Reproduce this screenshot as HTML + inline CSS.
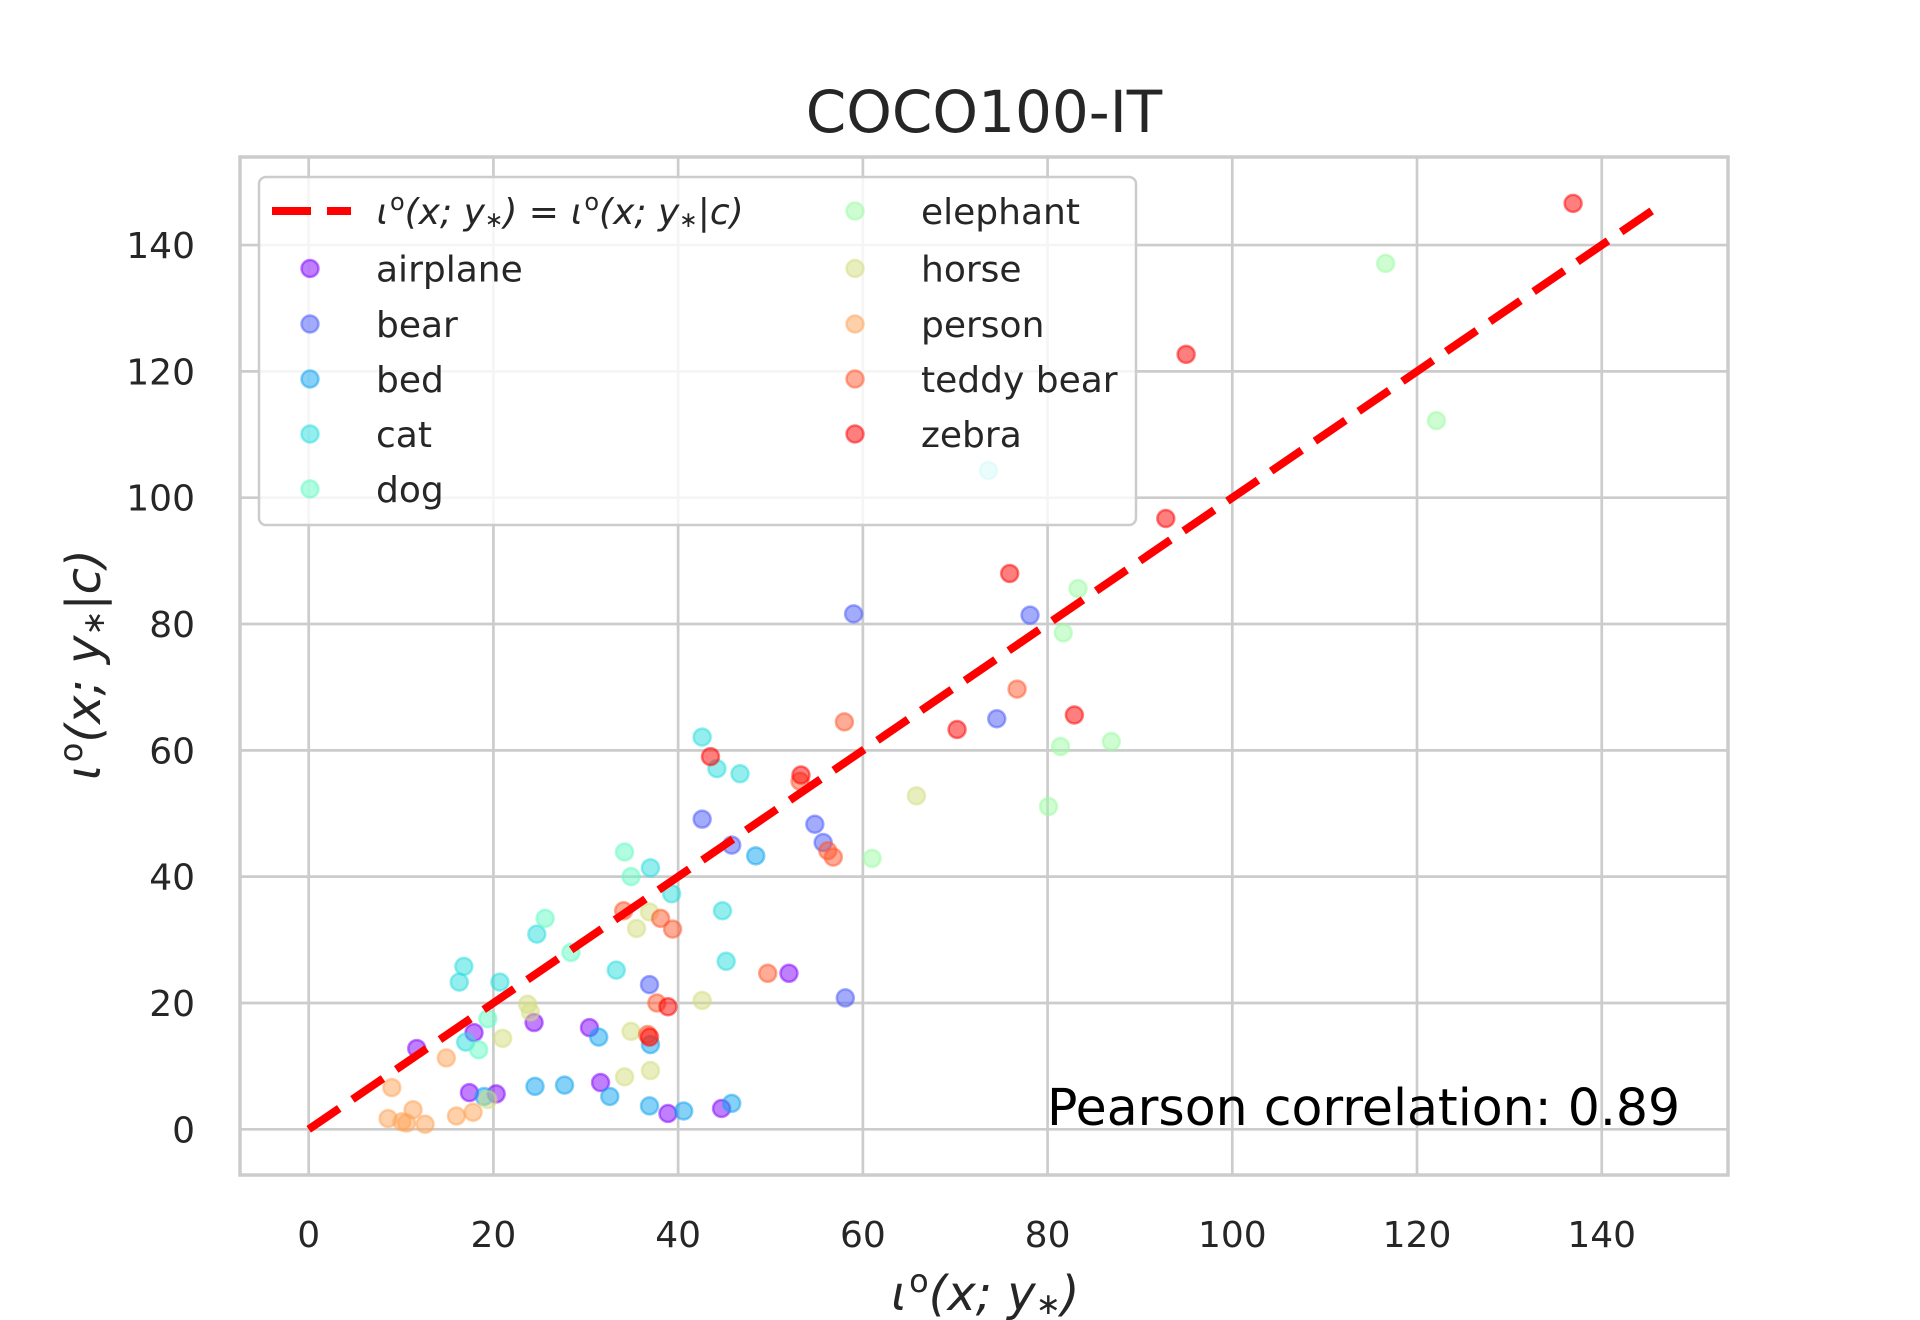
<!DOCTYPE html>
<html><head><meta charset="utf-8"><style>
html,body{margin:0;padding:0;background:#fff;}
svg{display:block;font-family:"DejaVu Sans","Liberation Sans",sans-serif;}
</style></head><body>
<svg id="chart" width="1920" height="1320" viewBox="0 0 1920 1320" xmlns="http://www.w3.org/2000/svg">
<rect x="0" y="0" width="1920" height="1320" fill="#fff"/>
<g id="grid"></g>
<g id="marks"></g>
<g id="ticks"></g>
<rect x="240" y="157" width="1488" height="1018" fill="none" stroke="#cccccc" stroke-width="3.5"/>
<text x="984" y="132" font-size="58" text-anchor="middle" fill="#262626">COCO100-IT</text>
<text x="985" y="1310" font-size="48" text-anchor="middle" fill="#262626" font-style="italic">ɩ<tspan font-style="normal" dy="-18" font-size="32">o</tspan><tspan dy="18">(x; y</tspan><tspan font-style="normal" font-size="30" dy="4">∗</tspan><tspan dy="-4">)</tspan></text>
<text transform="translate(100,665) rotate(-90)" font-size="48" text-anchor="middle" fill="#262626" font-style="italic">ɩ<tspan font-style="normal" dy="-18" font-size="32">o</tspan><tspan dy="18">(x; y</tspan><tspan font-style="normal" font-size="30" dy="4">∗</tspan><tspan dy="-4">|c)</tspan></text>
<g id="legend"></g>
<text x="1047" y="1125" font-size="50.5" fill="#000">Pearson correlation: 0.89</text>
</svg>
<script>
const categories = ["airplane","bear","bed","cat","dog","elephant","horse","person","teddy bear","zebra"];
const catColors = ["#8000ff","#4757fb","#0ea4f0","#2adddd","#63fbc3","#9cfba4","#d4dd80","#ffa457","#ff572c","#ff0000"];
const xTicks = [0,20,40,60,80,100,120,140];
const yTicks = [0,20,40,60,80,100,120,140];
const airplaneX = [11.7,17.9,24.4,30.4,17.4,20.3,31.6,38.9,44.7,52.0];
const airplaneY = [12.8,15.3,16.9,16.1,5.8,5.6,7.4,2.5,3.3,24.7];
const bearX = [59.0,78.1,74.5,42.6,54.8,55.7,45.8,36.9,58.1];
const bearY = [81.6,81.4,65.0,49.1,48.3,45.4,45.0,22.9,20.8];
const bedX = [48.4,24.5,27.7,32.6,36.9,40.6,45.8,31.4,37.0,19.0];
const bedY = [43.3,6.8,7.0,5.2,3.7,2.9,4.1,14.6,13.4,5.2];
const catX = [42.6,44.2,46.7,37.0,39.3,44.8,45.2,16.8,20.7,24.7,33.3,17.0,73.6,16.3];
const catY = [62.1,57.1,56.3,41.4,37.3,34.6,26.6,25.8,23.3,30.9,25.2,13.8,104.3,23.3];
const dogX = [34.2,25.6,28.4,19.4,18.4,34.9];
const dogY = [43.9,33.4,28.0,17.5,12.6,40.0];
const elephantX = [83.3,81.7,81.4,86.9,80.1,61.0,116.6,122.1];
const elephantY = [85.6,78.6,60.6,61.4,51.1,42.9,137.1,112.2];
const horseX = [65.8,35.5,36.9,42.6,34.9,34.2,37.0,21.0,23.7,24.0,19.4];
const horseY = [52.8,31.8,34.4,20.4,15.5,8.3,9.3,14.4,19.8,18.6,4.7];
const personX = [9.0,14.9,8.6,10.1,11.3,12.6,16.0,17.8,10.6];
const personY = [6.6,11.3,1.7,1.2,3.1,0.8,2.1,2.7,1.0];
const teddyX = [58.0,76.7,34.1,38.1,39.4,37.7,49.7,56.2,56.8,53.2,36.7];
const teddyY = [64.5,69.7,34.6,33.4,31.7,20.0,24.7,44.1,43.1,55.1,15.0];
const zebraX = [136.9,95.0,92.8,75.9,82.9,70.2,43.5,53.3,38.9,36.9];
const zebraY = [146.6,122.7,96.7,88.0,65.6,63.3,59.0,56.1,19.4,14.6];
const seriesX = [airplaneX,bearX,bedX,catX,dogX,elephantX,horseX,personX,teddyX,zebraX];
const seriesY = [airplaneY,bearY,bedY,catY,dogY,elephantY,horseY,personY,teddyY,zebraY];
const identityLine = [0,146.8];

const NS="http://www.w3.org/2000/svg";
const X0=308.7, XS=9.236, Y0=1129.3, YS=6.316;
function sx(v){return X0+v*XS;}
function sy(v){return Y0-v*YS;}
function mk(tag,attrs,parent){const e=document.createElementNS(NS,tag);for(const k in attrs)e.setAttribute(k,attrs[k]);parent.appendChild(e);return e;}

const grid=document.getElementById('grid');
const ticks=document.getElementById('ticks');
xTicks.forEach(t=>{
  const l=mk('line',{x1:sx(t),x2:sx(t),y1:157,y2:1175,stroke:'#cccccc','stroke-width':2.7},grid);
  
  
  const tx=mk('text',{x:sx(t),y:1247,'font-size':36,'text-anchor':'middle',fill:'#262626'},ticks);
  tx.textContent=t;
  
  
});
yTicks.forEach(t=>{
  const l=mk('line',{x1:240,x2:1728,y1:sy(t),y2:sy(t),stroke:'#cccccc','stroke-width':2.7},grid);
  
  
  const tx=mk('text',{x:195,y:sy(t)+13,'font-size':36,'text-anchor':'end',fill:'#262626'},ticks);
  tx.textContent=t;
  
  
});

const marks=document.getElementById('marks');
seriesX.forEach((xs,i)=>{
  const g=mk('g',{},marks);
  
  
  xs.forEach((v,j)=>{
    const c=mk('circle',{cx:sx(v),cy:sy(seriesY[i][j]),r:8.5,fill:catColors[i],'fill-opacity':0.5,stroke:catColors[i],'stroke-opacity':0.5,'stroke-width':2.5},g);
    
    
  });
});
const line=mk('line',{x1:sx(identityLine[0]),y1:sy(identityLine[0]),x2:sx(identityLine[1]),y2:sy(identityLine[1]),stroke:'#ff0000','stroke-width':8,'stroke-dasharray':'37 16'},marks);



const lg=document.getElementById('legend');
const box=mk('rect',{x:259,y:177,width:877,height:348,rx:7,fill:'#fff','fill-opacity':0.8,stroke:'#cccccc','stroke-width':2.5},lg);


const ll=mk('line',{x1:272,x2:351,y1:211,y2:211,stroke:'#ff0000','stroke-width':8,'stroke-dasharray':'39 16'},lg);


const lt=mk('text',{x:376,y:224,'font-size':36,fill:'#262626','font-style':'italic'},lg);
lt.innerHTML='ɩ<tspan font-style="normal" font-size="24" dy="-14">o</tspan><tspan dy="14">(x; y</tspan><tspan font-style="normal" font-size="22" dy="3">∗</tspan><tspan dy="-3">) = ɩ</tspan><tspan font-style="normal" font-size="24" dy="-14">o</tspan><tspan dy="14">(x; y</tspan><tspan font-style="normal" font-size="22" dy="3">∗</tspan><tspan dy="-3">|c)</tspan>';


const rowsY=[268.5,324,379,434,489,211,268.5,324,379,434];
categories.forEach((c,i)=>{
  const col=i<5?0:1;
  const mx=col?855:310, tx=col?921:376;
  const y=rowsY[i];
  const g=mk('g',{},lg);
  
  
  mk('circle',{cx:mx,cy:y,r:8.5,fill:catColors[i],'fill-opacity':0.5,stroke:catColors[i],'stroke-opacity':0.5,'stroke-width':2.5},g);
  const t=mk('text',{x:tx,y:y+13,'font-size':36,fill:'#262626'},g);
  t.textContent=c;
});
</script>
</body></html>
